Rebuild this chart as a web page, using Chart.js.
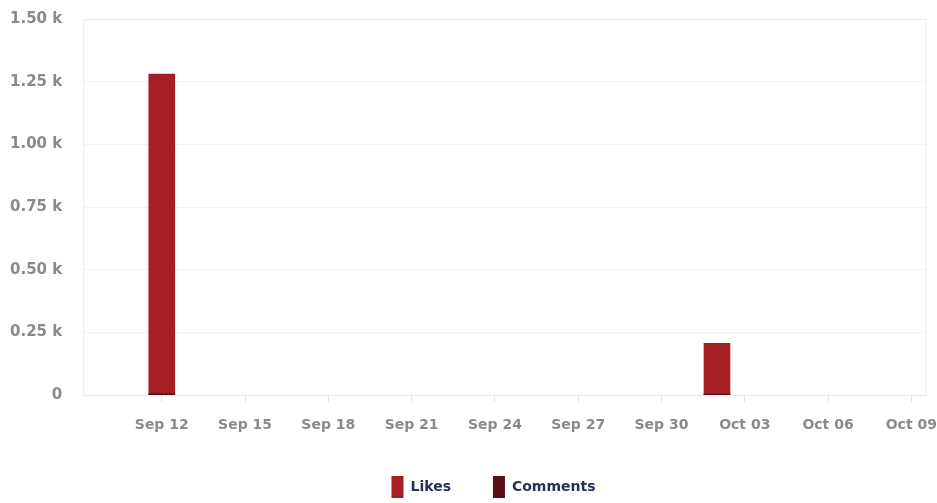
<!DOCTYPE html>
<html lang="en">
<head>
  <meta charset="UTF-8">
  <title>Likes and Comments</title>
  <script src="https://cdn.jsdelivr.net/npm/chart.js"></script>
  <style>
    html, body {
      margin: 0;
      padding: 0;
      background: #ffffff;
    }

    .chart-container {
      width: 937px;
      height: 503px;
      position: relative;
    }
  </style>
</head>
<body>

  <div class="chart-container">
    <canvas id="engagementChart"></canvas>
  </div>

  <script>
    // Daily engagement values
    const postDates = ['2023-09-12', '2023-10-02'];
    const likes = [1280, 207];
    const comments = [6, 4];

    // Axis ticks
    const tickDates = ['2023-09-12', '2023-09-15', '2023-09-18', '2023-09-21', '2023-09-24',
                       '2023-09-27', '2023-09-30', '2023-10-03', '2023-10-06', '2023-10-09'];
    const yTicks = [0, 250, 500, 750, 1000, 1250, 1500];

    const monthNames = ['Jan', 'Feb', 'Mar', 'Apr', 'May', 'Jun', 'Jul', 'Aug', 'Sep', 'Oct', 'Nov', 'Dec'];
    const DAY = 86400000;
    const dayNum = d => Date.parse(d) / DAY;

    function formatDay(value) {
      const d = new Date(Math.round(value) * DAY);
      return monthNames[d.getUTCMonth()] + ' ' + String(d.getUTCDate()).padStart(2, '0');
    }

    function formatK(value) {
      return value === 0 ? '0' : (value / 1000).toFixed(2) + ' k';
    }

    // light frame round the plot area
    const plotFrame = {
      id: 'plotFrame',
      beforeDatasetsDraw(chart) {
        const { ctx, chartArea } = chart;
        ctx.save();
        ctx.strokeStyle = '#ececec';
        ctx.lineWidth = 1;
        ctx.strokeRect(chartArea.left + 0.5, chartArea.top + 0.5,
                       chartArea.right - chartArea.left - 1, chartArea.bottom - chartArea.top);
        ctx.restore();
      }
    };

    // legend sits a bit right of the canvas centre
    const legendShift = {
      id: 'legendShift',
      afterLayout(chart) {
        chart.legend.left += 23;
        chart.legend.right += 23;
      }
    };

    const ctx = document.getElementById('engagementChart').getContext('2d');

    const engagementChart = new Chart(ctx, {
      type: 'bar',
      data: {
        datasets: [{
          label: 'Likes',
          data: postDates.map((d, i) => ({ x: dayNum(d), y: likes[i] })),
          backgroundColor: '#a51f24',
          order: 1
        }, {
          label: 'Comments',
          data: postDates.map((d, i) => ({ x: dayNum(d), y: comments[i] })),
          backgroundColor: '#5a1016',
          order: 0
        }]
      },
      options: {
        responsive: true,
        maintainAspectRatio: false,
        animation: false,
        datasets: {
          bar: {
            grouped: false,
            barThickness: 26
          }
        },
        layout: {
          padding: { top: 19, left: 7, right: 3, bottom: -5 }
        },
        scales: {
          x: {
            type: 'linear',
            offset: false,
            min: dayNum(tickDates[0]) - 2.83,
            max: dayNum(tickDates[tickDates.length - 1]) + 0.55,
            afterBuildTicks(scale) {
              scale.ticks = tickDates.map(d => ({ value: dayNum(d) }));
            },
            grid: {
              offset: false,
              drawOnChartArea: false,
              tickLength: 22,
              tickBorderDash: [6, 40],
              color: '#e4e4e4'
            },
            border: { color: '#e8e8e8' },
            ticks: {
              padding: 0,
              maxRotation: 0,
              autoSkip: false,
              color: '#8a8a8a',
              font: { family: 'DejaVu Sans', size: 14, weight: 'bold' },
              callback: value => formatDay(value)
            }
          },
          y: {
            min: 0,
            max: 1500,
            afterBuildTicks(scale) {
              scale.ticks = yTicks.map(v => ({ value: v }));
            },
            grid: {
              tickLength: 18,
              tickColor: 'rgba(0,0,0,0)',
              color: '#f3f3f3'
            },
            border: { display: false },
            ticks: {
              padding: 3,
              color: '#8a8a8a',
              font: { family: 'DejaVu Sans', size: 15, weight: 'bold' },
              callback: value => formatK(value)
            }
          }
        },
        plugins: {
          legend: {
            position: 'bottom',
            labels: {
              boxWidth: 12,
              boxHeight: 22,
              padding: 42,
              color: '#27305a',
              font: { family: 'DejaVu Sans', size: 14, weight: 'bold' },
              sort: (a, b) => a.datasetIndex - b.datasetIndex
            }
          },
          tooltip: { enabled: false }
        }
      },
      plugins: [plotFrame, legendShift]
    });
  </script>
</body>
</html>
